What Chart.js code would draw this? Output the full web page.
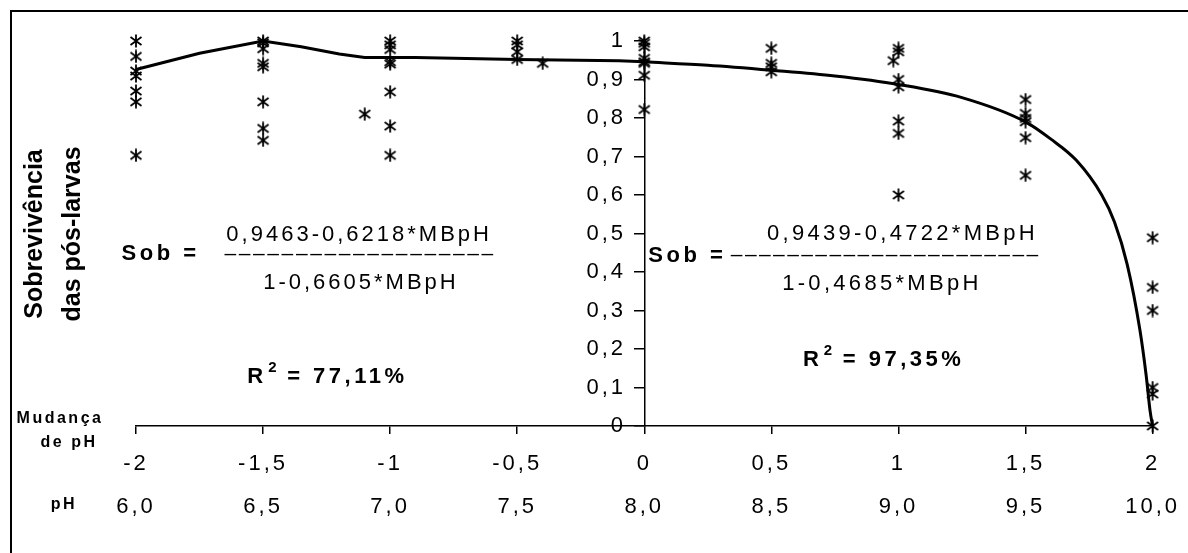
<!DOCTYPE html>
<html>
<head>
<meta charset="utf-8">
<script src="https://cdn.jsdelivr.net/npm/chart.js@4.4.1/dist/chart.umd.min.js"></script>
<style>
  html, body { margin: 0; padding: 0; background: #fff; }
  #wrap { width: 1188px; height: 553px; }
</style>
</head>
<body>
<div id="wrap"><canvas id="chart" width="1188" height="553"></canvas></div>
<script>
// Sobrevivência das pós-larvas x mudança de pH

// eixo x: mudança de pH e pH correspondente
const changeTicks = [-2, -1.5, -1, -0.5, 0, 0.5, 1, 1.5, 2];
const phLabels = ['6,0', '6,5', '7,0', '7,5', '8,0', '8,5', '9,0', '9,5', '10,0'];

// observações (asteriscos)
const obsChange = [
  -2, -2, -2, -2, -2, -2, -2,
  -1.5, -1.5, -1.5, -1.5, -1.5, -1.5, -1.5, -1.5,
  -1.1,
  -1, -1, -1, -1, -1, -1, -1, -1,
  -0.5, -0.5, -0.5, -0.5,
  -0.4,
  0, 0, 0, 0, 0, 0, 0, 0,
  0.5, 0.5, 0.5, 0.5,
  1, 1, 0.98, 1, 1, 1, 1, 1,
  1.5, 1.5, 1.5, 1.5, 1.5, 1.5,
  2, 2, 2, 2, 2, 2
];
const obsSurv = [
  1.0, 0.96, 0.922, 0.909, 0.87, 0.842, 0.703,
  1.0, 0.995, 0.98, 0.942, 0.933, 0.842, 0.773, 0.742,
  0.81,
  1.0, 0.99, 0.978, 0.946, 0.94, 0.868, 0.779, 0.703,
  1.0, 0.99, 0.972, 0.952,
  0.942,
  1.0, 0.994, 0.985, 0.955, 0.946, 0.942, 0.911, 0.822,
  0.981, 0.942, 0.933, 0.92,
  0.981, 0.972, 0.949, 0.9, 0.881, 0.792, 0.76, 0.6,
  0.848, 0.812, 0.799, 0.79, 0.749, 0.651,
  0.489, 0.36, 0.3, 0.1, 0.083, 0.0
];

// curva ajustada, lado ácido
const fitLeftChange = [-2, -1.75, -1.5, -1.35, -1.2, -1.1, -0.9, -0.5, -0.1, 0];
const fitLeftSurv = [0.926, 0.968, 1.0, 0.985, 0.966, 0.957, 0.957, 0.952, 0.949, 0.946];

// curva ajustada, lado básico
const fitRightChange = [0, 0.25, 0.5, 0.75, 1, 1.25, 1.5, 1.6, 1.7, 1.8, 1.85, 1.9, 1.95, 1.975, 1.99, 2];
const fitRightSurv = [0.946, 0.937, 0.924, 0.909, 0.887, 0.853, 0.79, 0.745, 0.69, 0.6, 0.53, 0.42, 0.25, 0.13, 0.04, 0];

const FONT = "'Liberation Sans', Arial, Helvetica, sans-serif";
Chart.defaults.font.family = FONT;
Chart.defaults.color = '#000';

function pairs(xs, ys) {
  return xs.map((x, i) => ({ x: x, y: ys[i] }));
}

function fmtNum(v) {
  if (Math.abs(v) < 1e-9) return '0';
  if (Number.isInteger(v)) return String(v);
  return (Math.round(v * 10) / 10).toFixed(1).replace('.', ',');
}

// asterisco: traço vertical + X
function makeAsterisk() {
  const c = document.createElement('canvas');
  c.width = 14; c.height = 14;
  const g = c.getContext('2d');
  g.strokeStyle = '#000';
  g.lineWidth = 1.8;
  g.beginPath();
  g.moveTo(7, 0.5); g.lineTo(7, 13.5);
  g.moveTo(1.5, 3); g.lineTo(12.5, 11);
  g.moveTo(12.5, 3); g.lineTo(1.5, 11);
  g.stroke();
  return c;
}

const spacing = {
  id: 'spacing',
  beforeLayout(chart) { chart.ctx.letterSpacing = '3px'; },
  beforeDraw(chart) { chart.ctx.letterSpacing = '3px'; }
};

const annotations = {
  id: 'annotations',
  afterDraw(chart) {
    const ctx = chart.ctx;
    const xs = chart.scales.x, ys = chart.scales.y;

    function put(str, px, py, font, align, ls) {
      ctx.save();
      ctx.font = font;
      ctx.letterSpacing = ls;
      ctx.textAlign = align;
      ctx.textBaseline = 'middle';
      ctx.fillStyle = '#000';
      ctx.fillText(str, px, py);
      const w = ctx.measureText(str).width;
      ctx.restore();
      return w;
    }
    const at = (xv, yv) => [xs.getPixelForValue(xv), ys.getPixelForValue(yv)];

    function rSquared(text, xv, yv) {
      let [px, py] = at(xv, yv);
      px += put('R', px, py, 'bold 22px ' + FONT, 'left', '3px');
      px += 2;
      px += put('2', px, py - 9, 'bold 15px ' + FONT, 'left', '0px');
      put(' ' + text, px + 1, py, 'bold 22px ' + FONT, 'left', '3.5px');
    }

    // equação do lado ácido
    let p = at(-2.057, 0.448);
    put('Sob =', p[0], p[1], 'bold 22px ' + FONT, 'left', '3.5px');
    p = at(-1.122, 0.497);
    put('0,9463-0,6218*MBpH', p[0], p[1], '22px ' + FONT, 'center', '3px');
    p = at(-1.118, 0.445);
    put('–'.repeat(19), p[0], p[1], '21px ' + FONT, 'center', '2.6px');
    p = at(-1.115, 0.372);
    put('1-0,6605*MBpH', p[0], p[1], '22px ' + FONT, 'center', '3px');
    rSquared('= 77,11%', -1.562, 0.128);

    // equação do lado básico
    p = at(0.016, 0.443);
    put('Sob =', p[0], p[1], 'bold 22px ' + FONT, 'left', '3.5px');
    p = at(1.016, 0.5);
    put('0,9439-0,4722*MBpH', p[0], p[1], '22px ' + FONT, 'center', '3.3px');
    p = at(0.95, 0.443);
    put('–'.repeat(22), p[0], p[1], '21px ' + FONT, 'center', '2.4px');
    p = at(0.935, 0.37);
    put('1-0,4685*MBpH', p[0], p[1], '22px ' + FONT, 'center', '3.3px');
    rSquared('= 97,35%', 0.624, 0.172);

    // rótulos das linhas do eixo x
    put('Mudança', 60, 419, 'bold 16px ' + FONT, 'center', '2.5px');
    put('de pH', 69, 443, 'bold 16px ' + FONT, 'center', '2.5px');
    put('pH', 64, 505, 'bold 16px ' + FONT, 'center', '2.5px');

    // título do eixo y
    ctx.save();
    ctx.translate(0, 234);
    ctx.rotate(-Math.PI / 2);
    ctx.font = 'bold 25px ' + FONT;
    ctx.letterSpacing = '0px';
    ctx.textAlign = 'center';
    ctx.textBaseline = 'alphabetic';
    ctx.fillStyle = '#000';
    ctx.fillText('Sobrevivência', 0, 42);
    ctx.fillText('das pós-larvas', 0, 80);
    ctx.restore();

    // moldura
    ctx.save();
    ctx.strokeStyle = '#000';
    ctx.lineWidth = 2;
    ctx.beginPath();
    ctx.moveTo(11, 553); ctx.lineTo(11, 11); ctx.lineTo(1188, 11);
    ctx.stroke();
    ctx.restore();
  }
};

const asterisk = makeAsterisk();

new Chart(document.getElementById('chart'), {
  type: 'scatter',
  data: {
    datasets: [
      {
        data: pairs(fitLeftChange, fitLeftSurv),
        showLine: true, borderColor: '#000', borderWidth: 3,
        pointRadius: 0, tension: 0, clip: false
      },
      {
        data: pairs(fitRightChange, fitRightSurv),
        showLine: true, borderColor: '#000', borderWidth: 3,
        pointRadius: 0, cubicInterpolationMode: 'monotone', clip: false
      },
      {
        data: pairs(obsChange, obsSurv),
        pointStyle: asterisk, pointRadius: 7, clip: false
      }
    ]
  },
  options: {
    responsive: false,
    animation: false,
    devicePixelRatio: 1,
    layout: { padding: { left: 136, right: 33, top: 41, bottom: 17 } },
    plugins: { legend: { display: false }, tooltip: { enabled: false } },
    scales: {
      x: {
        type: 'linear', min: -2, max: 2,
        afterBuildTicks: s => { s.ticks = changeTicks.map(v => ({ value: v })); },
        ticks: {
          autoSkip: false, maxRotation: 0, padding: 8,
          font: { size: 22, lineHeight: '43px' },
          callback: (v, i) => [fmtNum(v), phLabels[i]]
        },
        grid: { drawOnChartArea: false, drawTicks: true, tickLength: 8, color: '#000', lineWidth: 1.5 },
        border: { color: '#000', width: 1.5 }
      },
      y: {
        type: 'linear', min: 0, max: 1,
        position: { x: 0 },
        ticks: {
          stepSize: 0.1, autoSkip: false,
          font: { size: 22 },
          callback: v => fmtNum(v) + '  '
        },
        grid: { drawOnChartArea: false, drawTicks: true, tickLength: 10, color: '#000', lineWidth: 1.5 },
        border: { color: '#000', width: 1.5 }
      }
    }
  },
  plugins: [spacing, annotations]
});
</script>
</body>
</html>
